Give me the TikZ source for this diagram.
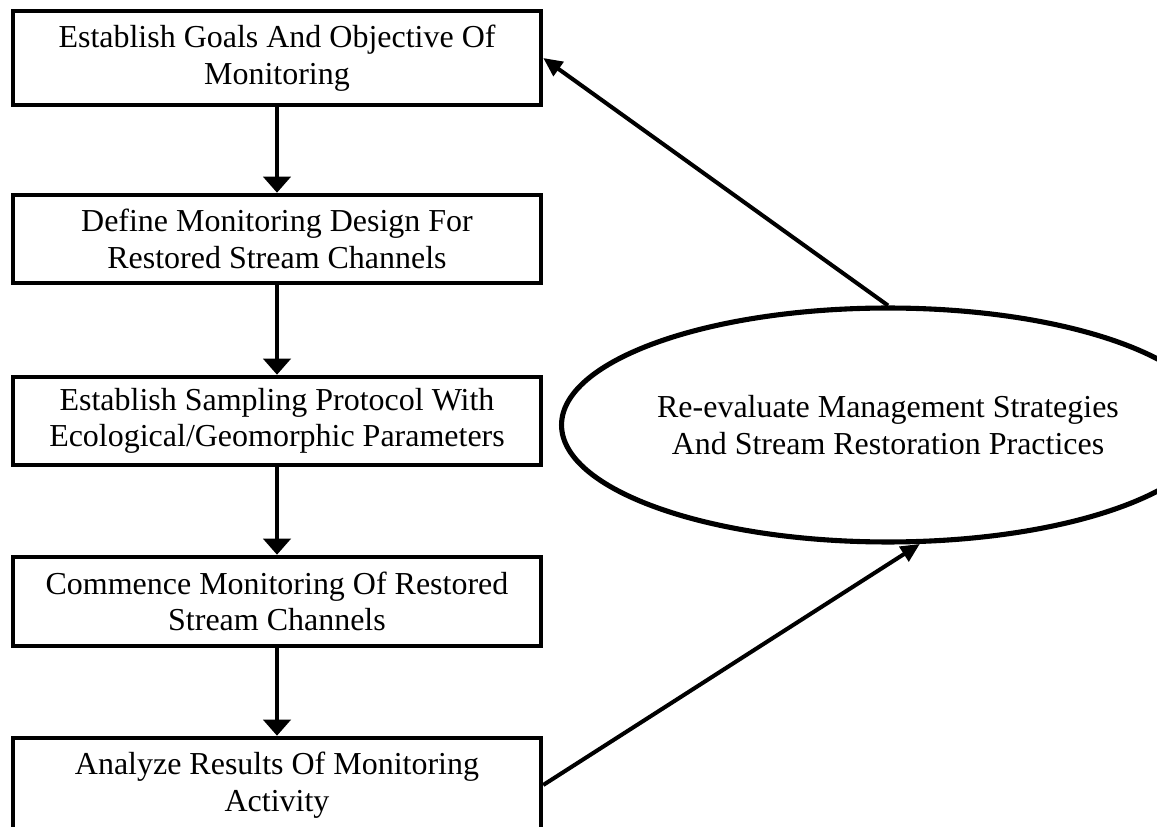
\documentclass[tikz,border=0pt]{standalone}
\usepackage{fontspec}
\setmainfont{Liberation Serif}
\usetikzlibrary{shapes.geometric,arrows.meta}
\begin{document}
\begin{tikzpicture}[x=0.02cm,y=-0.02cm,
        font=\fontsize{18.2}{20.8}\selectfont,
        stepbox/.style={draw,line width=2.6pt,minimum width=10.56cm,align=center,inner sep=0pt},
        flow/.style={line width=2.3pt,-{Triangle[length=0.32cm,width=0.54cm]}},
        back/.style={line width=2.3pt,-{Triangle[length=0.38cm,width=0.34cm]}}]
        \useasboundingbox (0,0) rectangle (1157,827);
        % left column
        \node[stepbox,minimum height=1.88cm] (goals) at (277,58) {Establish Goals And Objective Of\\Monitoring};
        \node[stepbox,minimum height=1.76cm] (design) at (277,239) {Define Monitoring Design For\\Restored Stream Channels};
        \node[stepbox,minimum height=1.76cm] (protocol) at (277,421) {Establish Sampling Protocol With\\Ecological/Geomorphic Parameters};
        \node[stepbox,minimum height=1.78cm] (commence) at (277,601.5) {Commence Monitoring Of Restored\\Stream Channels};
        \node[stepbox,minimum height=1.88cm] (results) at (277,785) {Analyze Results Of Monitoring\\Activity};
        % feedback
        \node[draw,ellipse,line width=2.9pt,minimum width=10.72cm,minimum height=4.68cm,inner sep=0pt,align=center] (reeval) at (888,425) {Re-evaluate Management Strategies\\And Stream Restoration Practices};
        \draw[flow] (goals) -- (design);
        \draw[flow] (design) -- (protocol);
        \draw[flow] (protocol) -- (commence);
        \draw[flow] (commence) -- (results);
        \draw[back] (results.east) -- (reeval.-75);
        \draw[back] (reeval.north) -- (goals.east);
    \end{tikzpicture}
\end{document}
